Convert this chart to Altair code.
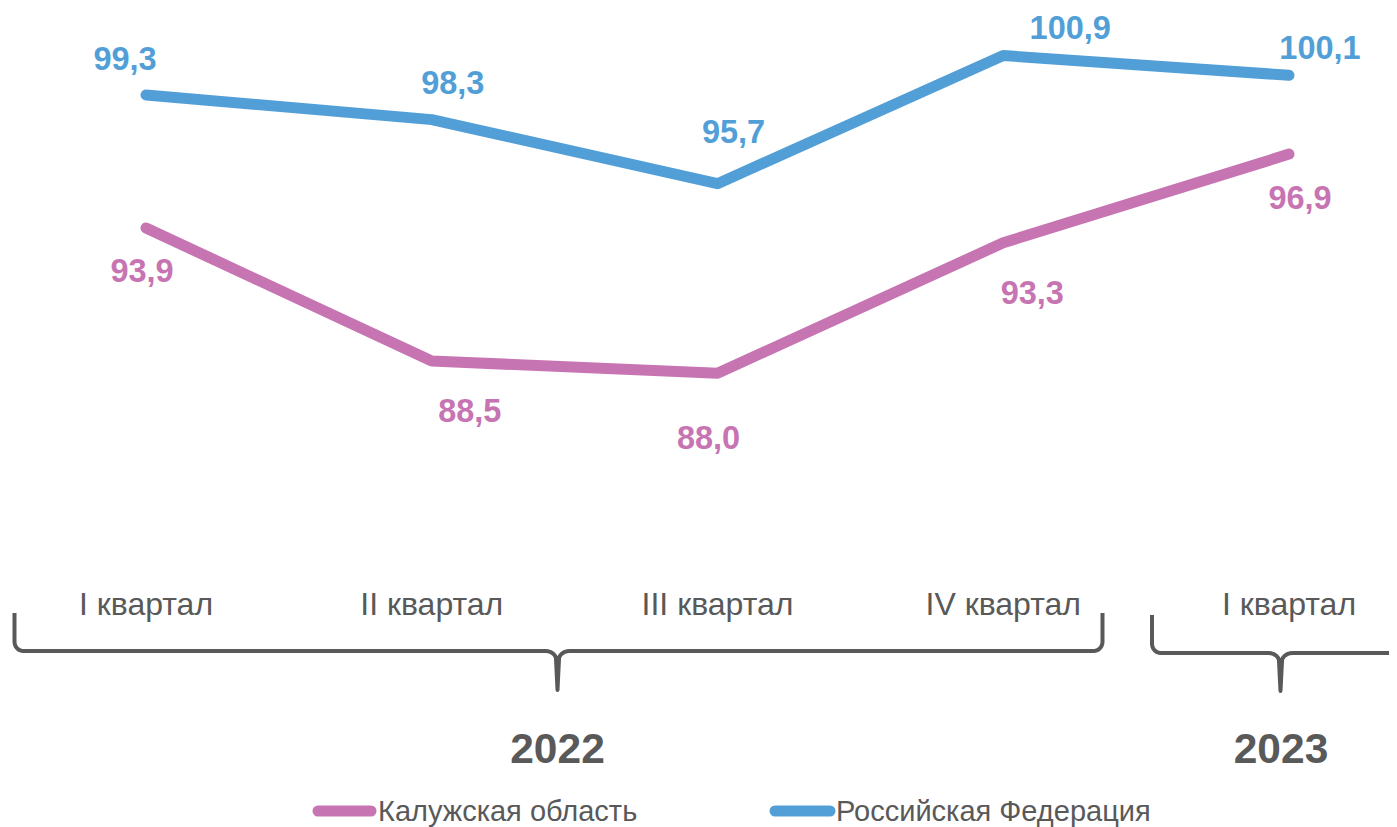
import math
import altair as alt
import pandas as pd

# ---- data ----
quarters = ["I квартал", "II квартал", "III квартал", "IV квартал", "I квартал"]
kaluga = [93.9, 88.5, 88.0, 93.3, 96.9]
russia = [99.3, 98.3, 95.7, 100.9, 100.1]
series_names = ["Калужская область", "Российская Федерация"]
years = ["2022", "2023"]

# ---- styles / layout ----
PINK = "#C774B2"
BLUE = "#529FD8"
GRAY = "#595959"
FONT = "Liberation Sans"
W, H = 1381, 819
STEP = 285.75          # px per category
X0 = 138               # px of first category
PX_PER_UNIT = 24.63    # px per value unit
Y_TOP_VALUE = 99.3 + 87 / PX_PER_UNIT

x_dom = [-X0 / STEP, -X0 / STEP + W / STEP]
y_dom = [Y_TOP_VALUE - H / PX_PER_UNIT, Y_TOP_VALUE]

# label offsets in px (dx, dy) relative to the point
kal_off = [(-4, 44), (38, 51), (-9, 66), (29, 51), (11, 45)]
rus_off = [(-21, -35.5), (21, -35.5), (16, -50.5), (67, -26.5), (31, -26.5)]

rows = []
for i in range(len(quarters)):
    for name, vals, offs in ((series_names[0], kaluga, kal_off), (series_names[1], russia, rus_off)):
        v = vals[i]
        dx, dy = offs[i]
        rows.append({
            "i": i, "series": name, "value": v,
            "label": f"{v:.1f}".replace(".", ","),
            "lx": i + dx / STEP, "ly": v - dy / PX_PER_UNIT,
        })
df = pd.DataFrame(rows)

xs = alt.Scale(domain=x_dom, nice=False, zero=False)
ys = alt.Scale(domain=y_dom, nice=False, zero=False)
col = alt.Scale(domain=series_names, range=[PINK, BLUE])

lines = alt.Chart(df).mark_line(strokeWidth=11, strokeCap="round", strokeJoin="round").encode(
    x=alt.X("i:Q", scale=xs, axis=None),
    y=alt.Y("value:Q", scale=ys, axis=None),
    color=alt.Color("series:N", scale=col, legend=None),
    detail="series:N",
)

labels = alt.Chart(df).mark_text(font=FONT, fontSize=32.5, fontWeight="bold", baseline="middle", align="center").encode(
    x=alt.X("lx:Q", scale=xs),
    y=alt.Y("ly:Q", scale=ys),
    text="label:N",
    color=alt.Color("series:N", scale=col, legend=None),
)

# category labels
cat_df = pd.DataFrame({"i": list(range(len(quarters))), "q": quarters})
cats = alt.Chart(cat_df).mark_text(font=FONT, fontSize=32, color=GRAY, baseline="middle", align="center").encode(
    x=alt.X("i:Q", scale=xs),
    y=alt.value(597),
    text="q:N",
)

# braces (pixel geometry)
def brace(x0, x1, xc, ytop, ymid, ybot, r=9, k=12):
    pts = []
    pts.append((x0, ytop))
    for t in range(0, 7):
        a = math.pi / 2 * t / 6
        pts.append((x0 + r - r * math.cos(a), ymid - r + r * math.sin(a)))
    pts.append((xc - k, ymid))
    for t in range(1, 6):
        a = math.pi / 2 * t / 6
        pts.append((xc - k + k * math.sin(a) * 0.9, ymid + 9 * (1 - math.cos(a))))
    pts.append((xc, ybot))
    for t in range(5, 0, -1):
        a = math.pi / 2 * t / 6
        pts.append((xc + k - k * math.sin(a) * 0.9, ymid + 9 * (1 - math.cos(a))))
    pts.append((xc + k, ymid))
    for t in range(0, 7):
        a = math.pi / 2 * t / 6
        pts.append((x1 - r + r * math.sin(a), ymid - r + r * math.cos(a)))
    pts.append((x1, ytop))
    return pts

brace_rows = []
for b, (x0, x1, xc, yt, ym, yb) in enumerate([(6.5, 1094.5, 549.5, 605, 643, 682),
                                              (1144, 1401, 1272.5, 607, 645, 683)]):
    for o, (px, py) in enumerate(brace(x0, x1, xc, yt, ym, yb)):
        brace_rows.append({"b": b, "o": o, "px": px, "py": py})
brace_df = pd.DataFrame(brace_rows)

braces = alt.Chart(brace_df).mark_line(color=GRAY, strokeWidth=4, strokeJoin="round", strokeCap="butt").encode(
    x=alt.X("px:Q", scale=None),
    y=alt.Y("py:Q", scale=None),
    detail="b:N",
    order="o:Q",
)

year_df = pd.DataFrame({"year": years, "px": [549.5, 1273]})
year_txt = alt.Chart(year_df).mark_text(font=FONT, fontSize=42.5, fontWeight="bold", color=GRAY, baseline="middle", align="center").encode(
    x=alt.X("px:Q", scale=None),
    y=alt.value(742),
    text="year:N",
)

# legend
leg_df = pd.DataFrame({"series": series_names, "x1": [310, 767], "x2": [363, 822], "tx": [370, 828]})
leg_lines = alt.Chart(leg_df).mark_rule(strokeWidth=11, strokeCap="round").encode(
    x=alt.X("x1:Q", scale=None),
    x2="x2:Q",
    y=alt.value(803),
    color=alt.Color("series:N", scale=col, legend=None),
)
leg_txt = alt.Chart(leg_df).mark_text(font=FONT, fontSize=29, color=GRAY, baseline="middle", align="left").encode(
    x=alt.X("tx:Q", scale=None),
    y=alt.value(804),
    text="series:N",
)

chart = alt.layer(braces, lines, labels, cats, year_txt, leg_lines, leg_txt).resolve_scale(
    x="shared", y="shared"
).properties(
    width=W, height=H, padding=0,
    autosize=alt.AutoSizeParams(type="none"),
    background="white",
).configure_view(stroke=None)

chart.save("out.html", embed_options={"renderer": "svg", "actions": False})
